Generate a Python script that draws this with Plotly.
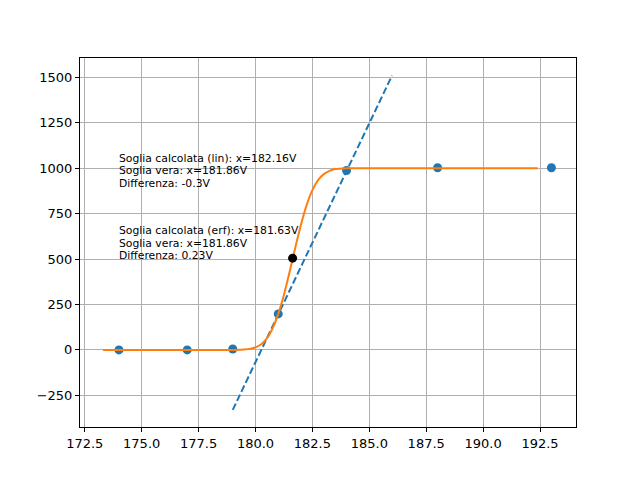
import plotly.graph_objects as go

# measured points
tensione = [174, 177, 179, 181, 184, 188, 193]
conteggi = [0, 0, 5, 198, 987, 1002, 1002]

# linear fit (drawn between its two ends)
lin_x = [179, 186]
lin_y = [-330, 1510]

# erf fit, values
erf_x = [173.3, 178.5, 179, 179.5, 180, 180.25, 180.5, 180.75, 181, 181.25, 181.5,
         181.75, 182, 182.25, 182.5, 182.75, 183, 183.25, 183.5, 184, 185, 192.4]
erf_y = [0, 0, 0, 2, 14, 31, 64, 118, 198, 304, 430,
         564, 690, 798, 879, 934, 967, 985, 995, 999, 1000, 1000]

# threshold point
soglia_x = [181.63]
soglia_y = [505]

righe_lin = ["Soglia calcolata (lin): x=182.16V", "Soglia vera: x=181.86V", "Differenza: -0.3V"]
y_lin = [1054, 985, 916]
righe_erf = ["Soglia calcolata (erf): x=181.63V", "Soglia vera: x=181.86V", "Differenza: 0.23V"]
y_erf = [657, 588, 519]

fig = go.Figure()
fig.add_trace(go.Scatter(x=tensione, y=conteggi, mode='markers',
                         marker=dict(color='#1f77b4', size=9)))
fig.add_trace(go.Scatter(x=lin_x, y=lin_y, mode='lines',
                         line=dict(color='#1f77b4', width=2, dash='7px,3px')))
fig.add_trace(go.Scatter(x=erf_x, y=erf_y, mode='lines', line_shape='spline',
                         line=dict(color='#ff7f0e', width=2)))
fig.add_trace(go.Scatter(x=soglia_x, y=soglia_y, mode='markers',
                         marker=dict(color='black', size=9)))

# one annotation per line to keep matplotlib-like line spacing
for txt, yy in list(zip(righe_lin, y_lin)) + list(zip(righe_erf, y_erf)):
    fig.add_annotation(x=173.95, y=yy, text=txt, showarrow=False, align='left',
                       xanchor='left', yanchor='middle', borderpad=0, height=11,
                       font=dict(family='DejaVu Sans', size=10.8, color='black'))

axis_style = dict(showline=True, mirror=True, linecolor='black', linewidth=1,
                  ticks='outside', ticklen=4, tickcolor='black',
                  showgrid=True, gridcolor='#b0b0b0', gridwidth=1, zeroline=False,
                  tickfont=dict(family='DejaVu Sans', size=13, color='black'))

fig.update_xaxes(range=[172.29, 194.08], tick0=172.5, dtick=2.5, tickformat='.1f', **axis_style)
fig.update_yaxes(range=[-424, 1606], tick0=0, dtick=250, **axis_style)

# page body adds 8px offset, margins compensate
fig.update_layout(width=640, height=480, showlegend=False,
                  plot_bgcolor='white', paper_bgcolor='white',
                  margin=dict(l=72, r=72, t=50, b=61))

fig.write_html("out.html")
